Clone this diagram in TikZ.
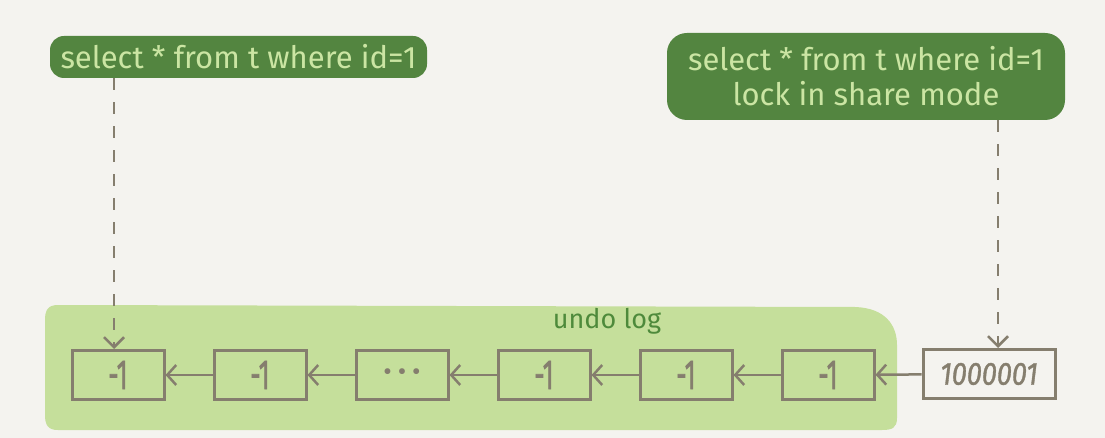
\documentclass[tikz,border=0pt]{standalone}
\usepackage{fontspec}
\setmainfont{Fira Sans}
\newfontfamily\hand{Fira Sans}
\newfontfamily\handnum[FakeStretch=0.6,FakeBold=1.5]{Fira Sans}
\newfontfamily\handit[FakeStretch=0.85,FakeBold=1]{Fira Sans Italic}
\usetikzlibrary{arrows.meta}
\definecolor{bgc}{HTML}{F4F3EF}
\definecolor{darkg}{HTML}{538540}
\definecolor{lightg}{HTML}{C5DF9B}
\definecolor{txtlight}{HTML}{CBE5A3}
\definecolor{lineg}{HTML}{857E6E}
\definecolor{undotxt}{HTML}{4E8A3B}
\tikzset{
  labelbox/.style={fill=darkg, rounded corners=14pt, text=txtlight, font=\hand\fontsize{31}{35}\selectfont, align=center, inner sep=0pt},
  cell/.style={draw=lineg, line width=3pt, minimum height=49pt, minimum width=92pt, inner sep=0pt, text=lineg, font=\handnum\fontsize{42}{42}\selectfont},
  link/.style={draw=lineg, line width=2.5pt, -{Straight Barb[length=9pt,width=20pt,line width=2.5pt]}},
  dashlink/.style={draw=lineg, line width=2.5pt, dash pattern=on 12pt off 12pt, -{Straight Barb[length=10pt,width=20pt,line width=2.5pt]}},
}
\begin{document}
\begin{tikzpicture}[x=1pt,y=-1pt]
\fill[bgc] (0,0) rectangle (1105,438);
\useasboundingbox (0,0) rectangle (1105,438);
% undo log area
\fill[lightg] (58,305) -- (855,307) .. controls (885,308) and (897,325) .. (897,345) -- (897,418) .. controls (897,428) and (892,430) .. (882,430) -- (58,430) .. controls (48,430) and (45,425) .. (45,415) -- (45,320) .. controls (45,310) and (48,305) .. (58,305) -- cycle;
\node[text=undotxt, font=\hand\fontsize{27}{27}\selectfont] (undo) at (607,321) {undo log};
% labels
\node[labelbox, minimum width=377pt, minimum height=42pt] (q1) at (238.5,57) {select * from t where id=1};
\node[labelbox, minimum width=398pt, minimum height=87pt, rounded corners=20pt] (q2) at (866,76.5) {select * from t where id=1\\lock in share mode};
% cells
\node[cell] (b1) at (118,375) {-1};
\node[cell] (b2) at (260,375) {-1};
\node[cell, font=\hand\fontsize{26}{26}\selectfont] (b3) at (402,375) {•\hspace{6pt}•\hspace{6pt}•};
\node[cell] (b4) at (544,375) {-1};
\node[cell] (b5) at (686,375) {-1};
\node[cell] (b6) at (828,375) {-1};
\node[cell, minimum width=132pt, fill=bgc, font=\handit\fontsize{32}{32}\selectfont] (b7) at (989,374) {1000001};
% links
\draw[link] (b2) -- (b1);
\draw[link] (b3) -- (b2);
\draw[link] (b4) -- (b3);
\draw[link] (b5) -- (b4);
\draw[link] (b6) -- (b5);
\draw[link] (b7) -- (b6);
\draw[dashlink] ([xshift=-4pt]b1.north |- q1.south) -- ([xshift=-4pt]b1.north);
\draw[dashlink] ([xshift=9pt]b7.north |- q2.south) -- ([xshift=9pt]b7.north);
\end{tikzpicture}
\end{document}
